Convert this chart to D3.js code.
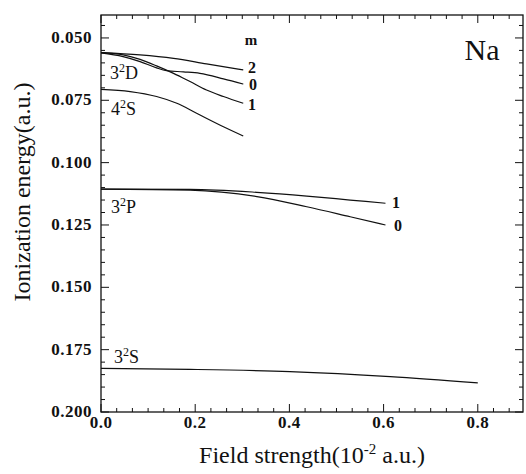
<!DOCTYPE html>
<html>
<head>
<meta charset="utf-8">
<script src="https://cdn.jsdelivr.net/npm/d3@7"></script>
<style>
  body { margin: 0; background: #fff; }
</style>
</head>
<body>
<div id="chart"></div>
<script>
// field strength (10^-2 a.u.) and ionization energy (a.u.)
const d3D_m2 = [[0, 0.0559], [0.083, 0.0568], [0.154, 0.0582], [0.224, 0.0604], [0.302, 0.0628]];
const d3D_m0 = [[0, 0.0560], [0.047, 0.0575], [0.083, 0.0595], [0.118, 0.0620], [0.139, 0.0631],
                [0.175, 0.0636], [0.210, 0.0642], [0.260, 0.0664], [0.302, 0.0685]];
const d3D_m1 = [[0, 0.0559], [0.047, 0.0568], [0.083, 0.0586], [0.118, 0.0612], [0.154, 0.0642],
                [0.189, 0.0675], [0.224, 0.0709], [0.260, 0.0735], [0.302, 0.0762]];
const d4S = [[0, 0.0706], [0.062, 0.0715], [0.118, 0.0735], [0.161, 0.0762], [0.203, 0.0802],
             [0.260, 0.0856], [0.302, 0.0893]];
const d3P_m1 = [[0, 0.1106], [0.189, 0.1107], [0.331, 0.1119], [0.437, 0.1134], [0.529, 0.1150], [0.604, 0.1163]];
const d3P_m0 = [[0, 0.1106], [0.189, 0.1110], [0.331, 0.1136], [0.437, 0.1177], [0.529, 0.1217], [0.604, 0.1250]];
const d3S = [[0, 0.1825], [0.189, 0.1829], [0.401, 0.1838], [0.614, 0.1858], [0.8, 0.1883]];

const xTicks = [0, 0.2, 0.4, 0.6, 0.8];
const yTicks = [0.050, 0.075, 0.100, 0.125, 0.150, 0.175, 0.200];

const W = 526, H = 474;
const L = 101, R = 523, T = 15, B = 412;
const serif = "Liberation Serif";
const ink = "#111";

const svg = d3.select("#chart").append("svg")
  .attr("width", W).attr("height", H)
  .attr("font-family", serif);

const x = d3.scaleLinear().domain([0, 0.896]).range([L, R]);
const y = d3.scaleLinear().domain([0.0408, 0.200]).range([T, B]);

// minor tick positions
const xMinor = d3.range(0, 0.896, 0.2 / 6);
const yMinor = d3.range(0.045, 0.2001, 0.005);

const ticks = svg.append("g").attr("stroke", ink).attr("stroke-width", 1);

xMinor.forEach(v => {
  const major = xTicks.some(t => Math.abs(t - v) < 1e-6);
  const len = major ? 8 : 4;
  ticks.append("line").attr("x1", x(v)).attr("x2", x(v)).attr("y1", B).attr("y2", B - len);
  ticks.append("line").attr("x1", x(v)).attr("x2", x(v)).attr("y1", T).attr("y2", T + len);
});
yMinor.forEach(v => {
  const major = yTicks.some(t => Math.abs(t - v) < 1e-6);
  const len = major ? 8 : 4;
  ticks.append("line").attr("y1", y(v)).attr("y2", y(v)).attr("x1", L).attr("x2", L + len);
  ticks.append("line").attr("y1", y(v)).attr("y2", y(v)).attr("x1", R).attr("x2", R - len);
});

svg.append("rect")
  .attr("x", L).attr("y", T).attr("width", R - L).attr("height", B - T)
  .attr("fill", "none").attr("stroke", ink).attr("stroke-width", 1.3);

svg.append("g").selectAll("text").data(xTicks).join("text")
  .attr("x", d => x(d)).attr("y", 428)
  .attr("text-anchor", "middle")
  .attr("font-size", 17).attr("font-weight", "bold").attr("letter-spacing", 0.5)
  .attr("fill", ink)
  .text(d => d.toFixed(1));

svg.append("g").selectAll("text").data(yTicks).join("text")
  .attr("x", 92).attr("y", d => y(d) + 5)
  .attr("text-anchor", "end")
  .attr("font-size", 17).attr("font-weight", "bold").attr("letter-spacing", 0.5)
  .attr("fill", ink)
  .text(d => d.toFixed(3));

// curves
const line = d3.line()
  .x(d => x(d[0])).y(d => y(d[1]))
  .curve(d3.curveMonotoneX);

[d3D_m2, d3D_m0, d3D_m1, d4S, d3P_m1, d3P_m0, d3S].forEach(s => {
  svg.append("path").datum(s)
    .attr("d", line)
    .attr("fill", "none").attr("stroke", ink).attr("stroke-width", 1.2);
});

// state labels with superscript 2
function stateLabel(px, py, n, l) {
  const t = svg.append("text").attr("x", px).attr("y", py)
    .attr("font-size", 18).attr("fill", ink);
  t.append("tspan").text(n);
  t.append("tspan").attr("dy", -7).attr("font-size", 12).text("2");
  t.append("tspan").attr("dy", 7).text(l);
}
stateLabel(110, 79, "3", "D");
stateLabel(111, 115, "4", "S");
stateLabel(111, 213, "3", "P");
stateLabel(114, 363, "3", "S");

// m labels
const mLab = [["m", 251, 45], ["2", 252, 73], ["0", 253, 90], ["1", 252, 110], ["1", 396, 208], ["0", 398, 231]];
svg.append("g").selectAll("text").data(mLab).join("text")
  .attr("x", d => d[1]).attr("y", d => d[2])
  .attr("text-anchor", "middle")
  .attr("font-size", d => d[0] === "m" ? 15 : 16)
  .attr("font-weight", "bold")
  .attr("fill", ink)
  .text(d => d[0]);

svg.append("text").attr("x", 482).attr("y", 60)
  .attr("text-anchor", "middle").attr("font-size", 30)
  .attr("fill", ink)
  .text("Na");

// axis titles
const xt = svg.append("text").attr("x", 312).attr("y", 463)
  .attr("text-anchor", "middle").attr("font-size", 24).attr("fill", ink);
xt.append("tspan").text("Field strength(10");
xt.append("tspan").attr("dy", -9).attr("font-size", 15).text("-2");
xt.append("tspan").attr("dy", 9).text(" a.u.)");

svg.append("text")
  .attr("transform", "translate(30,192) rotate(-90)")
  .attr("text-anchor", "middle").attr("font-size", 24).attr("fill", ink)
  .text("Ionization energy(a.u.)");
</script>
</body>
</html>
